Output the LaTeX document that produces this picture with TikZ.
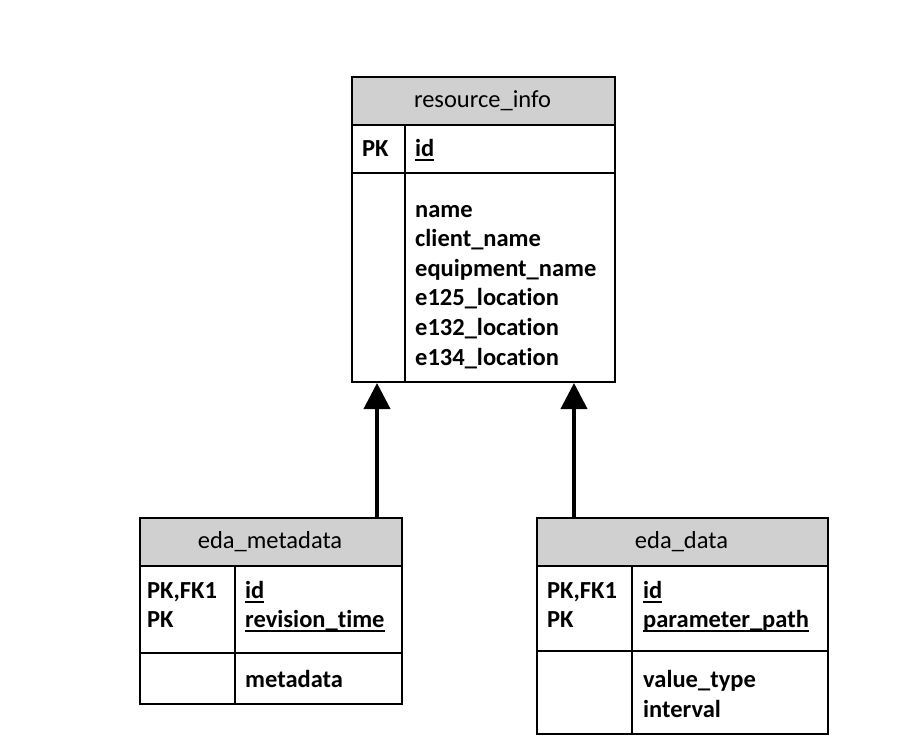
\documentclass[tikz,border=0pt]{standalone}
\usepackage{fontspec}
\setmainfont{Carlito}[Ligatures=NoCommon]
\usetikzlibrary{arrows.meta}
\definecolor{hdr}{RGB}{208,208,208}
\newcommand\myul[1]{\setbox0\hbox{#1}\rlap{\rule[-5pt]{\wd0}{2pt}}\box0}
\begin{document}
\begin{tikzpicture}[x=1pt,y=-1pt,
  tbl/.style={draw, line width=2pt, inner sep=0pt, anchor=north west},
  hd/.style={tbl, fill=hdr},
  fld/.style={inner sep=0pt, anchor=base west, font=\fontsize{24.5}{30}\selectfont\bfseries},
  ttl/.style={inner sep=0pt, anchor=base, font=\fontsize{24.5}{30}\selectfont},
  sep/.style={line width=2pt},
  arr/.style={line width=4pt, -{Triangle[width=26pt,length=26pt]}}]
\useasboundingbox (0,0) rectangle (899,745);
% resource_info
\node[hd, minimum width=263pt, minimum height=48pt] (resH) at (351,76) {};
\node[tbl, minimum width=263pt, minimum height=48pt] (resK) at (351,124) {};
\node[tbl, minimum width=263pt, minimum height=209pt] (resA) at (351,172) {};
\draw[sep] (405,124) -- (405,381);
\node[ttl] (resT) at (482.5,107) {resource\_info};
\node[fld] (resPK) at (362,156) {PK};
\node[fld] (resId) at (415,156) {\myul{id}};
\node[fld] (resF1) at (415,217) {name};
\node[fld] (resF2) at (415,246.6) {client\_name};
\node[fld] (resF3) at (415,276.2) {equipment\_name};
\node[fld] (resF4) at (415,305.8) {e125\_location};
\node[fld] (resF5) at (415,335.4) {e132\_location};
\node[fld] (resF6) at (415,365) {e134\_location};
% eda_metadata
\node[hd, minimum width=262pt, minimum height=48pt] (metaH) at (139,517) {};
\node[tbl, minimum width=262pt, minimum height=87pt] (metaK) at (139,565) {};
\node[tbl, minimum width=262pt, minimum height=51pt] (metaA) at (139,652) {};
\draw[sep] (235,565) -- (235,703);
\node[ttl] (metaT) at (270,548) {eda\_metadata};
\node[fld] (metaP1) at (147,598) {PK,FK1};
\node[fld] (metaP2) at (147,627) {PK};
\node[fld] (metaK1) at (245,598) {\myul{id}};
\node[fld] (metaK2) at (245,627) {\myul{revision\_time}};
\node[fld] (metaF1) at (245,687) {metadata};
% eda_data
\node[hd, minimum width=291pt, minimum height=48pt] (dataH) at (536,517) {};
\node[tbl, minimum width=291pt, minimum height=85pt] (dataK) at (536,565) {};
\node[tbl, minimum width=291pt, minimum height=83pt] (dataA) at (536,650) {};
\draw[sep] (632,565) -- (632,733);
\node[ttl] (dataT) at (681.5,548) {eda\_data};
\node[fld] (dataP1) at (547,598) {PK,FK1};
\node[fld] (dataP2) at (547,627) {PK};
\node[fld] (dataK1) at (643,598) {\myul{id}};
\node[fld] (dataK2) at (643,627) {\myul{parameter\_path}};
\node[fld] (dataF1) at (643,687) {value\_type};
\node[fld] (dataF2) at (643,717) {interval};
% connectors
\coordinate (c1) at (377,0);
\coordinate (c2) at (574,0);
\draw[arr] (metaH.north -| c1) -- (resA.south -| c1);
\draw[arr] (dataH.north -| c2) -- (resA.south -| c2);
\end{tikzpicture}
\end{document}
